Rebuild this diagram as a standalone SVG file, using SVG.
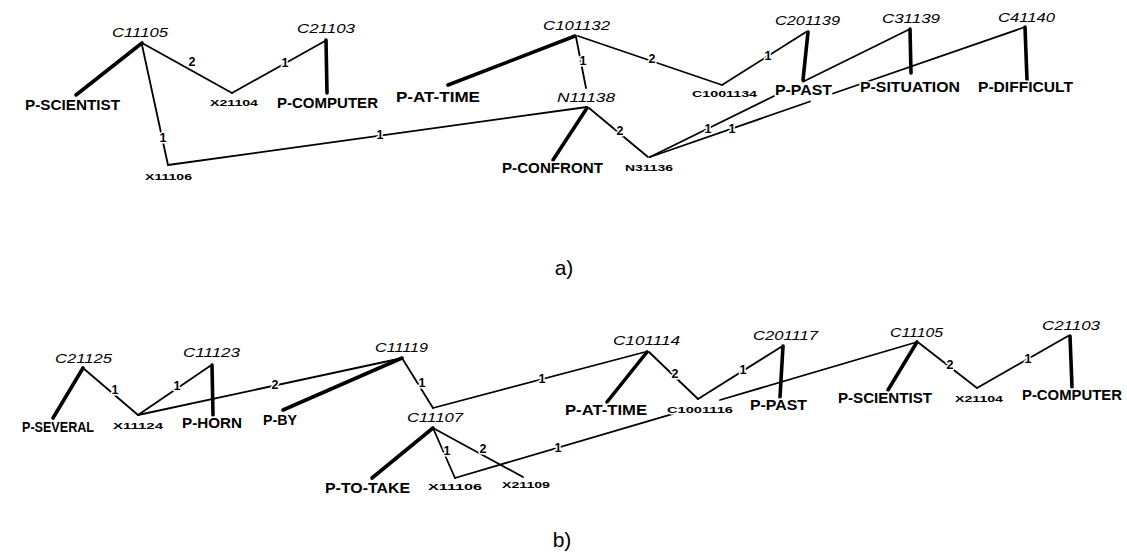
<svg xmlns="http://www.w3.org/2000/svg" width="1127" height="558" viewBox="0 0 1127 558">
<style>
.t{font-family:"Liberation Sans",Arial,sans-serif;fill:#000;stroke:#fff;stroke-width:3;paint-order:stroke;stroke-linejoin:round}
.c{font-style:italic;font-size:12.5px}
.p{font-weight:bold;font-size:14px}
.x{font-size:9px;font-weight:bold}
.n{font-weight:bold;font-size:12.5px;text-anchor:middle}
.cap{font-size:21px;text-anchor:middle;stroke:none}
.thin{stroke:#000;stroke-width:1.8;fill:none;stroke-linecap:round}
.thick{stroke:#000;stroke-width:3.6;fill:none;stroke-linecap:round}
</style>
<rect width="1127" height="558" fill="#fff"/>
<g id="connectors">
<!-- a) -->
<line class="thick" x1="142" y1="43" x2="76" y2="95"/>
<line class="thin" x1="142" y1="43" x2="232" y2="93"/>
<line class="thin" x1="232" y1="93" x2="325" y2="41"/>
<line class="thick" x1="326" y1="40" x2="327" y2="93"/>
<line class="thin" x1="142" y1="45" x2="168" y2="165"/>
<line class="thin" x1="168" y1="165" x2="587" y2="107"/>
<line class="thick" x1="575" y1="36" x2="448" y2="85"/>
<line class="thin" x1="576" y1="37" x2="586" y2="88"/>
<line class="thick" x1="587" y1="108" x2="553" y2="160"/>
<line class="thin" x1="589" y1="108" x2="648" y2="157"/>
<line class="thin" x1="578" y1="36" x2="722" y2="85"/>
<line class="thin" x1="722" y1="85" x2="806" y2="32"/>
<line class="thick" x1="808" y1="32" x2="803" y2="80"/>
<line class="thin" x1="650" y1="157" x2="774" y2="96"/>
<line class="thin" x1="803" y1="81.7" x2="910" y2="29"/>
<line class="thin" x1="650" y1="157" x2="810" y2="101.5"/>
<line class="thin" x1="833" y1="93.5" x2="1025" y2="27"/>
<line class="thick" x1="910" y1="29" x2="911" y2="73"/>
<line class="thick" x1="1025" y1="27" x2="1027" y2="80"/>
<!-- b) -->
<line class="thick" x1="83" y1="368" x2="53" y2="418"/>
<line class="thin" x1="83" y1="368" x2="138" y2="415"/>
<line class="thin" x1="138" y1="415" x2="210" y2="366"/>
<line class="thick" x1="212" y1="365" x2="213" y2="415"/>
<line class="thin" x1="138" y1="415" x2="398" y2="359"/>
<line class="thick" x1="283" y1="410" x2="402" y2="358"/>
<line class="thin" x1="402" y1="358" x2="433" y2="408"/>
<line class="thin" x1="433" y1="408" x2="645" y2="352"/>
<line class="thick" x1="433" y1="428" x2="372" y2="478"/>
<line class="thin" x1="433" y1="428" x2="455" y2="478"/>
<line class="thin" x1="455" y1="478" x2="673" y2="413.8"/>
<line class="thin" x1="720" y1="400" x2="917" y2="342"/>
<line class="thin" x1="433" y1="428" x2="523" y2="477"/>
<line class="thick" x1="647" y1="352" x2="607" y2="402"/>
<line class="thin" x1="649" y1="352" x2="698" y2="399"/>
<line class="thin" x1="698" y1="399" x2="781" y2="347"/>
<line class="thick" x1="783" y1="346" x2="780" y2="397"/>
<line class="thick" x1="917" y1="342" x2="888" y2="390"/>
<line class="thin" x1="919" y1="343" x2="977" y2="388"/>
<line class="thin" x1="977" y1="388" x2="1068" y2="336"/>
<line class="thick" x1="1070" y1="336" x2="1072" y2="387"/>
<!-- edge labels a) -->
<text class="t n" x="192" y="66">2</text>
<text class="t n" x="285" y="67">1</text>
<text class="t n" x="163" y="142">1</text>
<text class="t n" x="380" y="139">1</text>
<text class="t n" x="583" y="65">1</text>
<text class="t n" x="620" y="135">2</text>
<text class="t n" x="652" y="63">2</text>
<text class="t n" x="768" y="60">1</text>
<text class="t n" x="708" y="133">1</text>
<text class="t n" x="732" y="133">1</text>
<!-- edge labels b) -->
<text class="t n" x="115" y="394">1</text>
<text class="t n" x="177" y="390">1</text>
<text class="t n" x="275" y="389">2</text>
<text class="t n" x="422" y="387">1</text>
<text class="t n" x="542" y="383">1</text>
<text class="t n" x="447" y="455">1</text>
<text class="t n" x="558" y="452">1</text>
<text class="t n" x="483" y="453">2</text>
<text class="t n" x="675" y="378">2</text>
<text class="t n" x="743" y="374">1</text>
<text class="t n" x="950" y="369">2</text>
<text class="t n" x="1028" y="363">1</text>
</g>
<!-- nodes a) -->
<g id="a-C11105"><text class="t c" x="112" y="37" textLength="56" lengthAdjust="spacingAndGlyphs">C11105</text></g>
<g id="a-P-SCIENTIST"><text class="t p" x="25" y="110" textLength="95" lengthAdjust="spacingAndGlyphs">P-SCIENTIST</text></g>
<g id="a-X21104"><text class="t x" x="210" y="106" textLength="48" lengthAdjust="spacingAndGlyphs">X21104</text></g>
<g id="a-C21103"><text class="t c" x="297" y="33" textLength="58" lengthAdjust="spacingAndGlyphs">C21103</text></g>
<g id="a-P-COMPUTER"><text class="t p" x="277" y="108" textLength="101" lengthAdjust="spacingAndGlyphs">P-COMPUTER</text></g>
<g id="a-X11106"><text class="t x" x="145" y="180" textLength="47" lengthAdjust="spacingAndGlyphs">X11106</text></g>
<g id="a-C101132"><text class="t c" x="543" y="30" textLength="67" lengthAdjust="spacingAndGlyphs">C101132</text></g>
<g id="a-P-AT-TIME"><text class="t p" x="396" y="102" textLength="84" lengthAdjust="spacingAndGlyphs">P-AT-TIME</text></g>
<g id="a-N11138"><text class="t c" x="557" y="102" textLength="58" lengthAdjust="spacingAndGlyphs">N11138</text></g>
<g id="a-P-CONFRONT"><text class="t p" x="502" y="173" textLength="101" lengthAdjust="spacingAndGlyphs">P-CONFRONT</text></g>
<g id="a-N31136"><text class="t x" x="625" y="171" textLength="48" lengthAdjust="spacingAndGlyphs">N31136</text></g>
<g id="a-C1001134"><text class="t x" x="692" y="97" textLength="65" lengthAdjust="spacingAndGlyphs">C1001134</text></g>
<g id="a-C201139"><text class="t c" x="775" y="25" textLength="65" lengthAdjust="spacingAndGlyphs">C201139</text></g>
<g id="a-P-PAST"><text class="t p" x="775" y="95" textLength="57" lengthAdjust="spacingAndGlyphs">P-PAST</text></g>
<g id="a-C31139"><text class="t c" x="882" y="23" textLength="58" lengthAdjust="spacingAndGlyphs">C31139</text></g>
<g id="a-P-SITUATION"><text class="t p" x="860" y="92" textLength="100" lengthAdjust="spacingAndGlyphs">P-SITUATION</text></g>
<g id="a-C41140"><text class="t c" x="998" y="22" textLength="57" lengthAdjust="spacingAndGlyphs">C41140</text></g>
<g id="a-P-DIFFICULT"><text class="t p" x="978" y="92" textLength="95" lengthAdjust="spacingAndGlyphs">P-DIFFICULT</text></g>
<!-- nodes b) -->
<g id="b-C21125"><text class="t c" x="55" y="363" textLength="57" lengthAdjust="spacingAndGlyphs">C21125</text></g>
<g id="b-P-SEVERAL"><text class="t p" x="22" y="432" textLength="72" lengthAdjust="spacingAndGlyphs">P-SEVERAL</text></g>
<g id="b-X11124"><text class="t x" x="113" y="429" textLength="50" lengthAdjust="spacingAndGlyphs">X11124</text></g>
<g id="b-C11123"><text class="t c" x="183" y="357" textLength="57" lengthAdjust="spacingAndGlyphs">C11123</text></g>
<g id="b-P-HORN"><text class="t p" x="182" y="428" textLength="60" lengthAdjust="spacingAndGlyphs">P-HORN</text></g>
<g id="b-P-BY"><text class="t p" x="263" y="425" textLength="34" lengthAdjust="spacingAndGlyphs">P-BY</text></g>
<g id="b-C11119"><text class="t c" x="375" y="352" textLength="53" lengthAdjust="spacingAndGlyphs">C11119</text></g>
<g id="b-C11107"><text class="t c" x="407" y="422" textLength="56" lengthAdjust="spacingAndGlyphs">C11107</text></g>
<g id="b-P-TO-TAKE"><text class="t p" x="325" y="493" textLength="85" lengthAdjust="spacingAndGlyphs">P-TO-TAKE</text></g>
<g id="b-X11106"><text class="t x" x="428" y="490" textLength="54" lengthAdjust="spacingAndGlyphs">X11106</text></g>
<g id="b-X21109"><text class="t x" x="502" y="488" textLength="48" lengthAdjust="spacingAndGlyphs">X21109</text></g>
<g id="b-C101114"><text class="t c" x="613" y="345" textLength="67" lengthAdjust="spacingAndGlyphs">C101114</text></g>
<g id="b-P-AT-TIME"><text class="t p" x="565" y="415" textLength="82" lengthAdjust="spacingAndGlyphs">P-AT-TIME</text></g>
<g id="b-C1001116"><text class="t x" x="667" y="413" textLength="66" lengthAdjust="spacingAndGlyphs">C1001116</text></g>
<g id="b-C201117"><text class="t c" x="753" y="340" textLength="65" lengthAdjust="spacingAndGlyphs">C201117</text></g>
<g id="b-P-PAST"><text class="t p" x="750" y="410" textLength="57" lengthAdjust="spacingAndGlyphs">P-PAST</text></g>
<g id="b-C11105"><text class="t c" x="890" y="337" textLength="53" lengthAdjust="spacingAndGlyphs">C11105</text></g>
<g id="b-P-SCIENTIST"><text class="t p" x="838" y="403" textLength="94" lengthAdjust="spacingAndGlyphs">P-SCIENTIST</text></g>
<g id="b-X21104"><text class="t x" x="955" y="402" textLength="48" lengthAdjust="spacingAndGlyphs">X21104</text></g>
<g id="b-C21103"><text class="t c" x="1042" y="330" textLength="58" lengthAdjust="spacingAndGlyphs">C21103</text></g>
<g id="b-P-COMPUTER"><text class="t p" x="1022" y="400" textLength="100" lengthAdjust="spacingAndGlyphs">P-COMPUTER</text></g>
<!-- captions -->
<g id="caption-a"><text class="t cap" x="564" y="275">a)</text></g>
<g id="caption-b"><text class="t cap" x="562" y="547">b)</text></g>
</svg>
